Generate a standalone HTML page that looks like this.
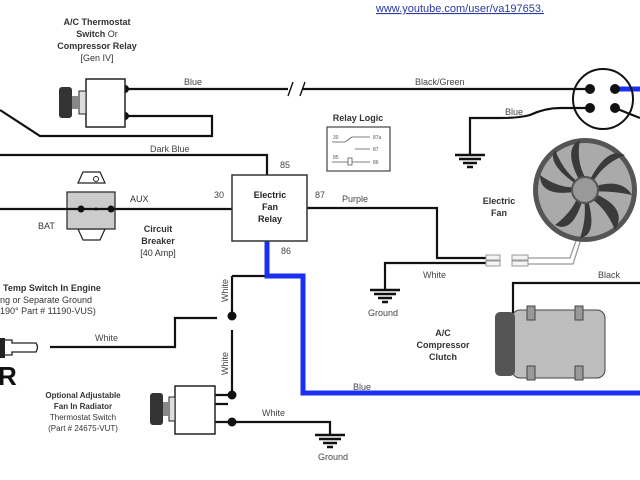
<!DOCTYPE html>
<html><head><meta charset="utf-8"><style>
html,body{margin:0;padding:0;background:#fff;}
svg{display:block;font-family:"Liberation Sans",Arial,sans-serif;}
</style></head><body>
<svg width="640" height="480" viewBox="0 0 640 480" xmlns="http://www.w3.org/2000/svg">
<rect width="640" height="480" fill="#fff"/>
<text x="460" y="12" font-size="11" fill="#2a3aa0" text-anchor="middle" text-decoration="underline">www.youtube.com/user/va197653.</text>

<g font-size="9" fill="#333" text-anchor="middle">
<text x="97" y="25" font-weight="bold">A/C Thermostat</text>
<text x="97" y="37"><tspan font-weight="bold">Switch</tspan> Or</text>
<text x="97" y="49" font-weight="bold">Compressor Relay</text>
<text x="97" y="61">[Gen IV]</text>
</g>

<g stroke="#111" stroke-width="2.2" fill="none">
<path d="M125 89 H288 M302 89 H590"/>
<path d="M125 116 H212 V136 H40 L0 110"/>
<path d="M0 155 H267 V175"/>
<path d="M0 209 H232"/>
<path d="M307 208 H437 V258 H492"/>
<path d="M385 290 V263 H492"/>
<path d="M590 108 H560 Q545 108 530 115 Q520 118 500 118 H470 V155"/>
<path d="M615 108 L640 118"/>
<path d="M513 313 V283 H640"/>
<path d="M232 276 H267"/>
<path d="M232 276 V316 M232 330 V395"/>
<path d="M217 318 H175 V347 H50"/>
<path d="M215 395 H232 M215 404 H228 M215 422 H330 V435"/>
</g>
<g stroke="#111" stroke-width="1.4"><path d="M288 96 L293 82 M300 96 L305 82"/></g>

<g stroke="#1a2ff0" stroke-width="5" fill="none">
<path d="M267 241 V276 H303 V393 H640"/>
<path d="M617 89 H640"/>
</g>

<g fill="#111">
<circle cx="125" cy="89" r="4"/><circle cx="125" cy="116" r="4"/>
<circle cx="232" cy="316" r="4.5"/><circle cx="232" cy="395" r="4.5"/><circle cx="232" cy="422" r="4.5"/>
<circle cx="590" cy="89" r="5"/><circle cx="615" cy="89" r="5"/><circle cx="590" cy="108" r="5"/><circle cx="615" cy="108" r="5"/>
</g>
<circle cx="603" cy="99" r="30" fill="none" stroke="#111" stroke-width="2"/>

<rect x="86" y="79" width="39" height="48" fill="#fff" stroke="#222" stroke-width="1.5"/>
<rect x="79" y="91" width="7" height="23" fill="#ddd" stroke="#222"/>
<rect x="59" y="87" width="13" height="31" rx="3" fill="#333"/>
<rect x="72" y="96" width="7" height="13" fill="#888"/>

<path d="M78 183 L83 172 H100 L105 183 Z M78 229 L83 240 H100 L105 229Z" fill="#fff" stroke="#222" stroke-width="1.2"/>
<rect x="67" y="192" width="48" height="37" fill="#ccc" stroke="#222" stroke-width="1.2"/>
<circle cx="96" cy="179" r="2.5" fill="none" stroke="#222"/>
<circle cx="96" cy="209" r="1.5" fill="#222"/>
<path d="M67 209 H115" stroke="#111" stroke-width="2.2"/>
<circle cx="81" cy="209" r="3.5" fill="#111"/><circle cx="111" cy="209" r="3.5" fill="#111"/>
<g font-size="9" fill="#333">
<text x="130" y="202">AUX</text><text x="38" y="229">BAT</text>
<text x="158" y="232" text-anchor="middle" font-weight="bold">Circuit</text>
<text x="158" y="244" text-anchor="middle" font-weight="bold">Breaker</text>
<text x="158" y="256" text-anchor="middle">[40 Amp]</text>
</g>

<rect x="232" y="175" width="75" height="66" fill="#fff" stroke="#333" stroke-width="1.5"/>
<g font-size="9" fill="#222" text-anchor="middle" font-weight="bold">
<text x="270" y="198">Electric</text><text x="270" y="210">Fan</text><text x="270" y="222">Relay</text>
</g>
<g font-size="9" fill="#444">
<text x="280" y="168">85</text><text x="214" y="198">30</text><text x="315" y="198">87</text><text x="281" y="254">86</text>
<text x="184" y="85">Blue</text><text x="415" y="85">Black/Green</text>
<text x="150" y="152">Dark Blue</text>
<text x="342" y="202">Purple</text>
<text x="423" y="278">White</text>
<text x="505" y="115">Blue</text>
<text x="598" y="278">Black</text>
<text x="353" y="390">Blue</text>
<text x="95" y="341">White</text>
<text x="262" y="416">White</text>
<text x="368" y="316">Ground</text>
<text x="318" y="460">Ground</text>
<text transform="translate(228,302) rotate(-90)">White</text>
<text transform="translate(228,375) rotate(-90)">White</text>
</g>

<text x="358" y="121" font-size="9" font-weight="bold" fill="#333" text-anchor="middle">Relay Logic</text>
<rect x="327" y="127" width="63" height="44" fill="#fff" stroke="#444" stroke-width="1.2"/>
<g stroke="#555" stroke-width="0.8" fill="none">
<path d="M332 142 H345 L352 137 H370 M355 149 H370 M332 162 H348 M352 162 H370"/>
<rect x="348" y="158" width="4" height="7"/>
</g>
<g font-size="5" fill="#555"><text x="333" y="139">30</text><text x="373" y="139">87a</text><text x="373" y="151">87</text><text x="333" y="159">85</text><text x="373" y="164">86</text></g>

<g stroke="#111" stroke-width="2.4">
<path d="M455 155 H485 M459 159 H481 M463 163 H477 M467 167 H473"/>
<path d="M370 290 H400 M374 294 H396 M378 298 H392 M382 302 H388"/>
<path d="M315 435 H345 M319 439 H341 M323 443 H337 M327 447 H333"/>
</g>

<g fill="#f4f4f4" stroke="#999">
<rect x="486" y="255" width="14" height="5"/><rect x="486" y="261" width="14" height="5"/>
<rect x="512" y="255" width="16" height="5"/><rect x="512" y="261" width="16" height="5"/>
</g>
<path d="M528 258 H570 L578 235 M528 264 H573 L582 236" stroke="#999" stroke-width="1.3" fill="none"/>

<g>
<circle cx="585" cy="190" r="52" fill="#555"/>
<circle cx="585" cy="190" r="47" fill="#aaa"/>
<g fill="#3a3a3a">
<path d="M585 190 Q560 150 580 140 Q575 165 590 185Z"/>
<path d="M585 190 Q605 145 625 155 Q600 165 590 188Z"/>
<path d="M585 190 Q620 175 632 195 Q608 190 588 192Z"/>
<path d="M585 190 Q630 205 615 230 Q605 205 585 195Z"/>
<path d="M585 190 Q600 235 580 238 Q588 215 583 193Z"/>
<path d="M585 190 Q575 235 555 225 Q575 210 580 190Z"/>
<path d="M585 190 Q540 200 540 175 Q560 190 582 187Z"/>
<path d="M585 190 Q545 165 555 150 Q565 175 584 186Z"/>
</g>
<circle cx="585" cy="190" r="13" fill="#999" stroke="#555" stroke-width="2"/>
</g>
<text x="499" y="204" font-size="9" font-weight="bold" fill="#333" text-anchor="middle">Electric</text>
<text x="499" y="216" font-size="9" font-weight="bold" fill="#333" text-anchor="middle">Fan</text>

<rect x="512" y="310" width="93" height="68" rx="8" fill="#bdbdbd" stroke="#444"/>
<rect x="495" y="312" width="20" height="64" rx="5" fill="#555"/>
<rect x="527" y="306" width="8" height="14" fill="#999" stroke="#444"/>
<rect x="575" y="306" width="8" height="14" fill="#999" stroke="#444"/>
<rect x="527" y="366" width="8" height="14" fill="#999" stroke="#444"/>
<rect x="575" y="366" width="8" height="14" fill="#999" stroke="#444"/>
<g font-size="9" font-weight="bold" fill="#333" text-anchor="middle">
<text x="443" y="336">A/C</text><text x="443" y="348">Compressor</text><text x="443" y="360">Clutch</text>
</g>

<g font-size="9" fill="#333">
<text x="3" y="291" font-weight="bold">Temp Switch In Engine</text>
<text x="0" y="303">ng or Separate Ground</text>
<text x="0" y="314">190° Part # 11190-VUS)</text>
</g>
<path d="M0 340 H12 V343 H36 Q39 347 36 352 H12 V355 H0Z" fill="#fff" stroke="#222" stroke-width="1.3"/>
<rect x="0" y="338" width="5" height="20" fill="#222"/>
<text x="-2" y="385" font-size="26" font-weight="bold" fill="#111">R</text>

<rect x="175" y="386" width="40" height="48" fill="#fff" stroke="#222" stroke-width="1.5"/>
<rect x="169" y="397" width="6" height="24" fill="#ddd" stroke="#222"/>
<rect x="150" y="393" width="13" height="32" rx="3" fill="#333"/>
<rect x="163" y="402" width="6" height="14" fill="#888"/>
<g font-size="8" fill="#333" text-anchor="middle">
<text x="83" y="398" font-weight="bold">Optional Adjustable</text>
<text x="83" y="409" font-weight="bold">Fan In Radiator</text>
<text x="83" y="420">Thermostat Switch</text>
<text x="83" y="431">(Part # 24675-VUT)</text>
</g>
</svg>
</body></html>
